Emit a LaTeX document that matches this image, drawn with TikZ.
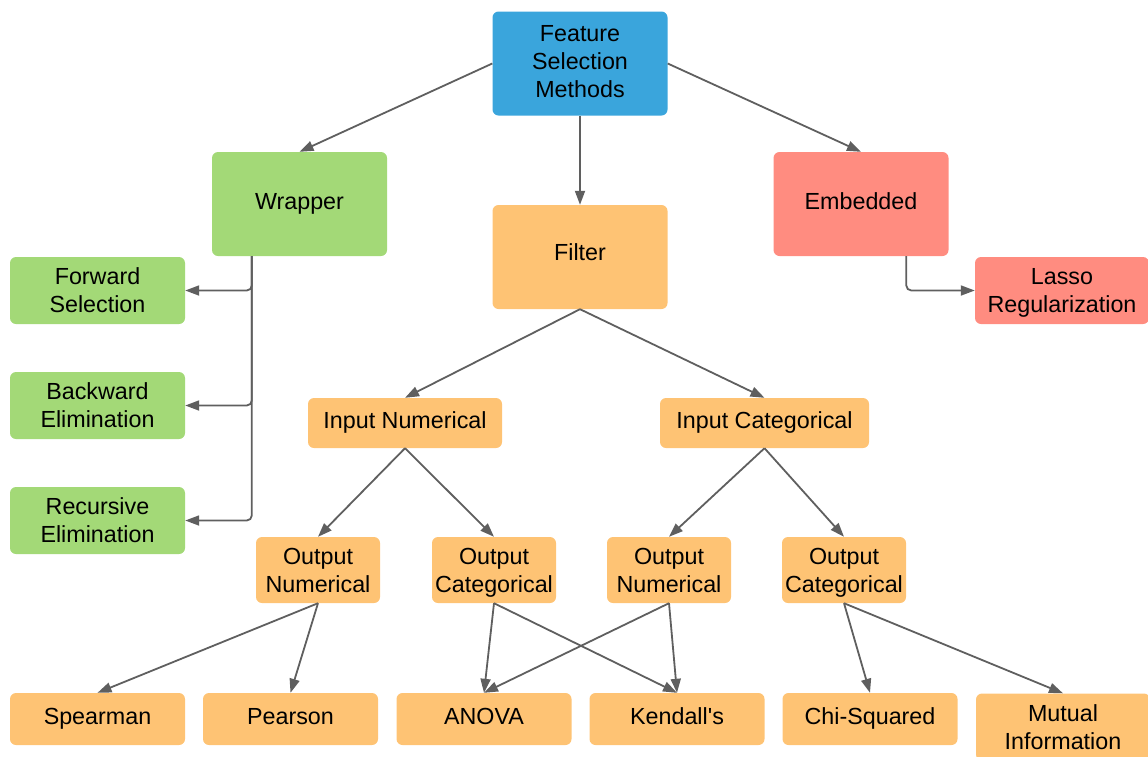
\documentclass[tikz,border=0pt]{standalone}
\usepackage{fontspec}
\setmainfont{Liberation Sans}
\usetikzlibrary{arrows.meta}
\definecolor{fsblue}{HTML}{3AA5DC}
\definecolor{fsgreen}{HTML}{A3D977}
\definecolor{fsorange}{HTML}{FEC374}
\definecolor{fsred}{HTML}{FF8C80}
\definecolor{linegray}{HTML}{5F5F5F}
% last line of a label without its descender depth
\newcommand\nodesc[1]{\raisebox{0pt}[\height][0pt]{#1}}
% extra depth on the last line of a label
\newcommand\deepline{\rule[-4pt]{0pt}{0pt}}
\begin{document}
\begin{tikzpicture}[x=1pt,y=-1pt,
  box/.style={rounded corners=6pt, inner sep=0pt, align=center,
    font=\fontsize{23.3}{28}\selectfont, text=black},
  oneline/.style={text height=16.5pt, text depth=6.5pt},
  bigbox/.style={box, minimum width=175pt, minimum height=104pt},
  leafbox/.style={box, minimum width=175pt, minimum height=67pt},
  smallbox/.style={box, oneline, minimum width=175pt, minimum height=52pt},
  outbox/.style={box, fill=fsorange, minimum width=124pt, minimum height=66pt},
  inbox/.style={box, oneline, fill=fsorange, minimum height=50pt},
  link/.style={draw=linegray, line width=1.8pt,
    -{Triangle[length=14pt,width=10pt]}},
  elbow/.style={link, rounded corners=5pt},
]
\useasboundingbox (0,0) rectangle (1148,756);

% top level
\node[bigbox, fill=fsblue] (fsm) at (580,63.5) {Feature\\Selection\\Methods\deepline};
\node[bigbox, oneline, fill=fsgreen] (wrapper) at (299.5,204) {Wrapper};
\node[bigbox, oneline, text depth=9pt, fill=fsorange] (filter) at (580,257) {Filter};
\node[bigbox, oneline, fill=fsred] (embedded) at (861,204) {Embedded};

% wrapper methods
\node[leafbox, fill=fsgreen] (fwd) at (97.5,290.5) {Forward\\Selection};
\node[leafbox, fill=fsgreen] (bwd) at (97.5,405.5) {Backward\\Elimination};
\node[leafbox, fill=fsgreen] (rec) at (97.5,520.5) {Recursive\\Elimination};

% embedded methods
\node[leafbox, fill=fsred, minimum width=174pt] (lasso) at (1062,290.5) {Lasso\\\nodesc{Regularization}};

% filter branches
\node[inbox, minimum width=194pt] (innum) at (405,423) {Input Numerical};
\node[inbox, minimum width=209pt] (incat) at (764.5,423) {Input Categorical};

\node[outbox] (onum1) at (318,570) {Output\\Numerical};
\node[outbox] (ocat1) at (494,570) {Output\\\nodesc{Categorical}};
\node[outbox] (onum2) at (669,570) {Output\\Numerical};
\node[outbox] (ocat2) at (844,570) {Output\\\nodesc{Categorical}};

% statistical tests
\node[smallbox, fill=fsorange] (spearman) at (97.5,719) {Spearman};
\node[smallbox, fill=fsorange] (pearson) at (290.5,719) {Pearson};
\node[smallbox, fill=fsorange] (anova) at (484,719) {ANOVA};
\node[smallbox, fill=fsorange] (kendall) at (677,719) {Kendall\textquotesingle s};
\node[smallbox, fill=fsorange] (chi) at (870,719) {Chi-Squared};
\node[leafbox, fill=fsorange, minimum width=174pt] (mutual) at (1063,727) {Mutual\\Information};

% connectors from the root
\draw[link] (fsm.west) -- (wrapper.north);
\draw[link] (fsm.south) -- (filter.north);
\draw[link] (fsm.east) -- (embedded.north);

% wrapper trunk with branches
\coordinate (wtrunk) at ([xshift=40pt]wrapper.south west);
\draw[elbow] (wtrunk) |- (fwd.east);
\draw[elbow] (wtrunk) |- (bwd.east);
\draw[elbow] (wtrunk) |- (rec.east);

% embedded elbow
\coordinate (etrunk) at ([xshift=133pt]embedded.south west);
\draw[elbow] (etrunk) |- (lasso.west);

% filter tree
\draw[link] (filter.south) -- (innum.north);
\draw[link] (filter.south) -- (incat.north);
\draw[link] (innum.south) -- (onum1.north);
\draw[link] (innum.south) -- (ocat1.north);
\draw[link] (incat.south) -- (onum2.north);
\draw[link] (incat.south) -- (ocat2.north);

\draw[link] (onum1.south) -- (spearman.north);
\draw[link] (onum1.south) -- (pearson.north);
\draw[link] (ocat1.south) -- (anova.north);
\draw[link] (ocat1.south) -- (kendall.north);
\draw[link] (onum2.south) -- (anova.north);
\draw[link] (onum2.south) -- (kendall.north);
\draw[link] (ocat2.south) -- (chi.north);
\draw[link] (ocat2.south) -- (mutual.north);
\end{tikzpicture}
\end{document}
